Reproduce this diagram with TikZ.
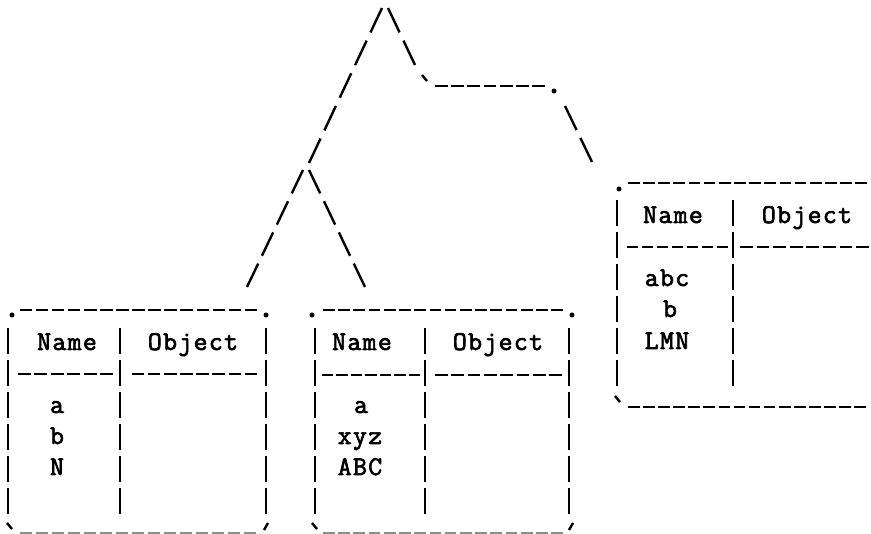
\documentclass[tikz,border=0pt]{standalone}
\usepackage{fontspec}
\usetikzlibrary{calc}
\newfontfamily\tw{Latin Modern Mono}[LetterSpace=5, FakeBold=2.5]
% n dashes with given duty evenly spread from #1 to #2
\newcommand\dsegs[4]{%
  \pgfmathsetmacro\tsp{1/(#3-(1-#4))}%
  \foreach \i in {1,...,#3}{%
    \pgfmathsetmacro\ta{(\i-1)*\tsp}%
    \pgfmathsetmacro\tb{(\i-1)*\tsp+#4*\tsp}%
    \draw[ln] ($(#1)!\ta!(#2)$) -- ($(#1)!\tb!(#2)$);
  }}
\newcommand\treesegs[3]{\dsegs{#1}{#2}{#3}{0.75}}
\newcommand\hsegs[3]{\dsegs{#1}{#2}{#3}{0.77}}
\begin{document}
\begin{tikzpicture}[x=1pt,y=-1pt,
  ln/.style={line width=2.4pt, line cap=butt},
  vb/.style={ln, dash pattern=on 26pt off 6pt},
  dotc/.style={circle, fill=black, inner sep=0pt, minimum size=5pt},
  txt/.style={font=\tw\fontsize{27}{27}\selectfont, anchor=base, inner sep=0pt},
]
\useasboundingbox[fill=white] (0,0) rectangle (871,534);

% ---- tree ----
\coordinate (apL) at (382,8);
\coordinate (brT) at (309,163);
\coordinate (sL) at (303,170);
\coordinate (sLe) at (247,287);
\coordinate (sR) at (309,170);
\coordinate (sRe) at (365,287);
\coordinate (apR) at (388,8);
\coordinate (apRe) at (415,65);
\coordinate (tk1) at (422,75);
\coordinate (tk2) at (427,81);
\coordinate (hA) at (435,86);
\coordinate (hB) at (545,86);
\node[dotc] (hdot) at (554,91) {};
\coordinate (rT) at (565,106);
\coordinate (rTe) at (592,162);
\treesegs{apL}{brT}{5}
\treesegs{sL}{sLe}{4}
\treesegs{sR}{sRe}{4}
\treesegs{apR}{apRe}{2}
\draw[ln] (tk1) -- (tk2);
\hsegs{hA}{hB}{7}
\treesegs{rT}{rTe}{2}

% ---- box 1 ----
\node[dotc] (b1tl) at (12,315) {};
\node[dotc] (b1tr) at (266,315) {};
\coordinate (b1t1) at (20,310);  \coordinate (b1t2) at (257,310);
\coordinate (b1h1) at (18,374);  \coordinate (b1h2) at (113,374);
\coordinate (b1h3) at (132,374); \coordinate (b1h4) at (257,374);
\coordinate (b1b1) at (20,533);  \coordinate (b1b2) at (256,533);
\hsegs{b1t1}{b1t2}{15}
\hsegs{b1h1}{b1h2}{6}
\hsegs{b1h3}{b1h4}{8}
\begin{scope}[black!45]\hsegs{b1b1}{b1b2}{15}\end{scope}
\draw[vb] (8,328) -- (8,520);
\draw[vb] (266,328) -- (266,520);
\draw[vb] (120,328) -- (120,520);
\draw[ln] (7,523) -- (12,529);
\draw[ln] (268,523) -- (264,530);
\node[txt] (b1n) at (67,350) {Name};
\node[txt] (b1o) at (193,350) {Object};
\node[txt] (b1a) at (57,413) {a};
\node[txt] (b1b) at (57,444) {b};
\node[txt] (b1c) at (57,475) {N};

% ---- box 2 ----
\node[dotc] (b2tl) at (312,315) {};
\node[dotc] (b2tr) at (572,315) {};
\coordinate (b2t1) at (323,310);  \coordinate (b2t2) at (563,310);
\coordinate (b2h1) at (322,375);  \coordinate (b2h2) at (420,375);
\coordinate (b2h3) at (435,375);  \coordinate (b2h4) at (562,375);
\coordinate (b2b1) at (323,533);  \coordinate (b2b2) at (563,533);
\hsegs{b2t1}{b2t2}{16}
\hsegs{b2h1}{b2h2}{7}
\hsegs{b2h3}{b2h4}{8}
\begin{scope}[black!45]\hsegs{b2b1}{b2b2}{16}\end{scope}
\draw[vb] (315,328) -- (315,520);
\draw[vb] (569,328) -- (569,520);
\draw[vb] (425,328) -- (425,520);
\draw[ln] (312,523) -- (317,529);
\draw[ln] (573,523) -- (569,530);
\node[txt] (b2n) at (362,350) {Name};
\node[txt] (b2o) at (498,350) {Object};
\node[txt] (b2a) at (361,413) {a};
\node[txt] (b2b) at (360,444) {xyz};
\node[txt] (b2c) at (360,475) {ABC};

% ---- box 3 ----
\node[dotc] (b3tl) at (619,189) {};
\coordinate (b3t1) at (628,183);  \coordinate (b3t2) at (867,183);
\coordinate (b3h1) at (627,247);  \coordinate (b3h2) at (728,247);
\coordinate (b3h3) at (740,247);  \coordinate (b3h4) at (869,247);
\coordinate (b3b1) at (628,407);  \coordinate (b3b2) at (866,407);
\hsegs{b3t1}{b3t2}{16}
\hsegs{b3h1}{b3h2}{7}
\hsegs{b3h3}{b3h4}{8}
\hsegs{b3b1}{b3b2}{16}
\draw[vb] (617,200) -- (617,392);
\draw[vb] (733,200) -- (733,392);
\draw[ln] (615,396) -- (620,402);
\node[txt] (b3n) at (673,223) {Name};
\node[txt] (b3o) at (807,223) {Object};
\node[txt] (b3a) at (667,286) {abc};
\node[txt] (b3b) at (670,317) {b};
\node[txt] (b3c) at (667,349) {LMN};
\end{tikzpicture}
\end{document}
